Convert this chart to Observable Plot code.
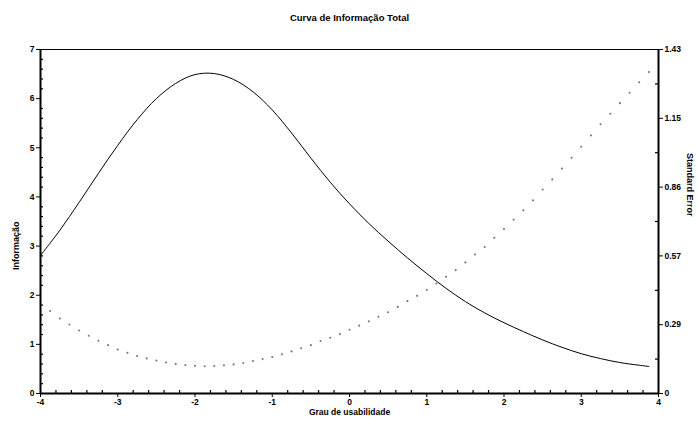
<!DOCTYPE html>
<html><head><meta charset="utf-8">
<script src="https://cdn.jsdelivr.net/npm/d3@7"></script>
<script src="https://cdn.jsdelivr.net/npm/@observablehq/plot@0.6"></script>
<style>body{margin:0;background:#fff;} svg{display:block;}</style>
</head><body><div id="chart"></div>
<script>
// Information curve (left axis)
const infoTheta = [-4, -3.75, -3.5, -3.25, -3, -2.75, -2.5, -2.25, -2, -1.75, -1.5, -1.25, -1, -0.75, -0.5, -0.25, 0, 0.25, 0.5, 0.75, 1, 1.25, 1.5, 1.75, 2, 2.25, 2.5, 2.75, 3, 3.25, 3.5, 3.75, 3.875];
const infoValues = [2.81, 3.32, 3.89, 4.48, 5.05, 5.57, 6.00, 6.31, 6.49, 6.51, 6.39, 6.14, 5.77, 5.30, 4.79, 4.30, 3.86, 3.46, 3.10, 2.76, 2.44, 2.14, 1.87, 1.64, 1.44, 1.26, 1.09, 0.94, 0.81, 0.71, 0.63, 0.575, 0.55];
// Standard error points (right axis)
const seTheta = [-3.875, -3.75, -3.625, -3.5, -3.375, -3.25, -3.125, -3, -2.875, -2.75, -2.625, -2.5, -2.375, -2.25, -2.125, -2, -1.875, -1.75, -1.625, -1.5, -1.375, -1.25, -1.125, -1, -0.875, -0.75, -0.625, -0.5, -0.375, -0.25, -0.125, 0, 0.125, 0.25, 0.375, 0.5, 0.625, 0.75, 0.875, 1, 1.125, 1.25, 1.375, 1.5, 1.625, 1.75, 1.875, 2, 2.125, 2.25, 2.375, 2.5, 2.625, 2.75, 2.875, 3, 3.125, 3.25, 3.375, 3.5, 3.625, 3.75, 3.875];
const seValues = [0.343, 0.312, 0.287, 0.262, 0.240, 0.219, 0.201, 0.183, 0.169, 0.156, 0.146, 0.137, 0.129, 0.123, 0.118, 0.115, 0.113, 0.114, 0.117, 0.121, 0.127, 0.135, 0.143, 0.152, 0.163, 0.175, 0.188, 0.201, 0.218, 0.232, 0.247, 0.265, 0.282, 0.300, 0.319, 0.338, 0.360, 0.384, 0.406, 0.430, 0.457, 0.485, 0.513, 0.545, 0.578, 0.609, 0.647, 0.684, 0.723, 0.762, 0.803, 0.848, 0.890, 0.935, 0.980, 1.026, 1.073, 1.119, 1.163, 1.207, 1.250, 1.294, 1.336];
// Axes
const xTicks = [-4, -3, -2, -1, 0, 1, 2, 3, 4];
const xMinor = [-3.8,-3.6,-3.4,-3.2,-2.8,-2.6,-2.4,-2.2,-1.8,-1.6,-1.4,-1.2,-0.8,-0.6,-0.4,-0.2,0.2,0.4,0.6,0.8,1.2,1.4,1.6,1.8,2.2,2.4,2.6,2.8,3.2,3.4,3.6,3.8];
const yTicks = [0, 1, 2, 3, 4, 5, 6, 7];
const yMinor = [0.2,0.4,0.6,0.8,1.2,1.4,1.6,1.8,2.2,2.4,2.6,2.8,3.2,3.4,3.6,3.8,4.2,4.4,4.6,4.8,5.2,5.4,5.6,5.8,6.2,6.4,6.6,6.8];
const seMax = 1.43;
const seTicks = [0, 0.286, 0.572, 0.858, 1.144, 1.43];
const seTickLabels = ["0", "0.29", "0.57", "0.86", "1.15", "1.43"];
const seMinor = [0.143, 0.429, 0.715, 1.001, 1.287];
const title = "Curva de Informação Total";
const xLabel = "Grau de usabilidade";
const yLabel = "Informação";
const y2Label = "Standard Error";

const yMax = 7;
const k = yMax / seMax;
const info = infoTheta.map((t, i) => ({t, v: infoValues[i]}));
const se = seTheta.map((t, i) => ({t, s: seValues[i]}));
const font = "'Liberation Sans', Arial, sans-serif";

const chart = Plot.plot({
  width: 699, height: 423,
  marginLeft: 40, marginRight: 41, marginTop: 49, marginBottom: 30,
  style: {fontFamily: font, fontWeight: "bold", fontSize: "8px", background: "#fff", color: "#000"},
  x: {domain: [-4, 4]},
  y: {domain: [0, yMax]},
  marks: [
    Plot.axisX({ticks: xTicks, tickSize: 4, tickPadding: 1, tickFormat: d => String(d), label: null, fontSize: 8.5, fontWeight: "bold"}),
    Plot.axisY({anchor: "left", ticks: yTicks, tickSize: 4, tickPadding: 2, tickFormat: d => String(d), label: null, fontSize: 8.5, fontWeight: "bold"}),
    Plot.axisY({anchor: "right", ticks: seTicks.map(s => s * k), tickSize: 4, tickPadding: 2, tickFormat: (d) => seTickLabels[Math.round(d / (yMax / 5))], label: null, fontSize: 8.5, fontWeight: "bold"}),
    // minor ticks (inward)
    Plot.ruleX(xMinor, {x: d => d, y1: 0, y2: 0, insetTop: -3, stroke: "#000", strokeWidth: 1.2}),
    Plot.ruleY(yMinor, {y: d => d, x1: -4, x2: -4, insetRight: -3, stroke: "#000", strokeWidth: 1.2}),
    Plot.ruleY(seMinor, {y: d => d * k, x1: 4, x2: 4, insetLeft: -3, stroke: "#000", strokeWidth: 1.2}),
    // frame
    Plot.ruleY([yMax], {stroke: "#000", strokeWidth: 1}),
    Plot.ruleX([-4], {stroke: "#000", strokeWidth: 2}),
    Plot.ruleX([4], {stroke: "#000", strokeWidth: 2}),
    Plot.ruleY([0], {stroke: "#000", strokeWidth: 2}),
    // data
    Plot.line(info, {x: "t", y: "v", curve: "catmull-rom", stroke: "#000", strokeWidth: 1}),
    Plot.dot(se, {x: "t", y: d => d.s * k, r: 1.05, fill: "#777", stroke: "none"}),
    // labels
    Plot.text([title], {frameAnchor: "top", dy: -35, fontSize: 9.5, fontWeight: "bold", fill: "#000"}),
    Plot.text([xLabel], {frameAnchor: "bottom", dy: 21, fontSize: 8.5, fontWeight: "bold", fill: "#000"}),
    Plot.text([yLabel], {frameAnchor: "left", dx: -24, rotate: -90, textAnchor: "end", fontSize: 9, fontWeight: "bold", fill: "#000"}),
    Plot.text([y2Label], {frameAnchor: "right", dx: 31, dy: -5, rotate: 90, textAnchor: "end", fontSize: 9, fontWeight: "bold", fill: "#000"})
  ]
});
document.getElementById("chart").appendChild(chart);
</script>
</body></html>
